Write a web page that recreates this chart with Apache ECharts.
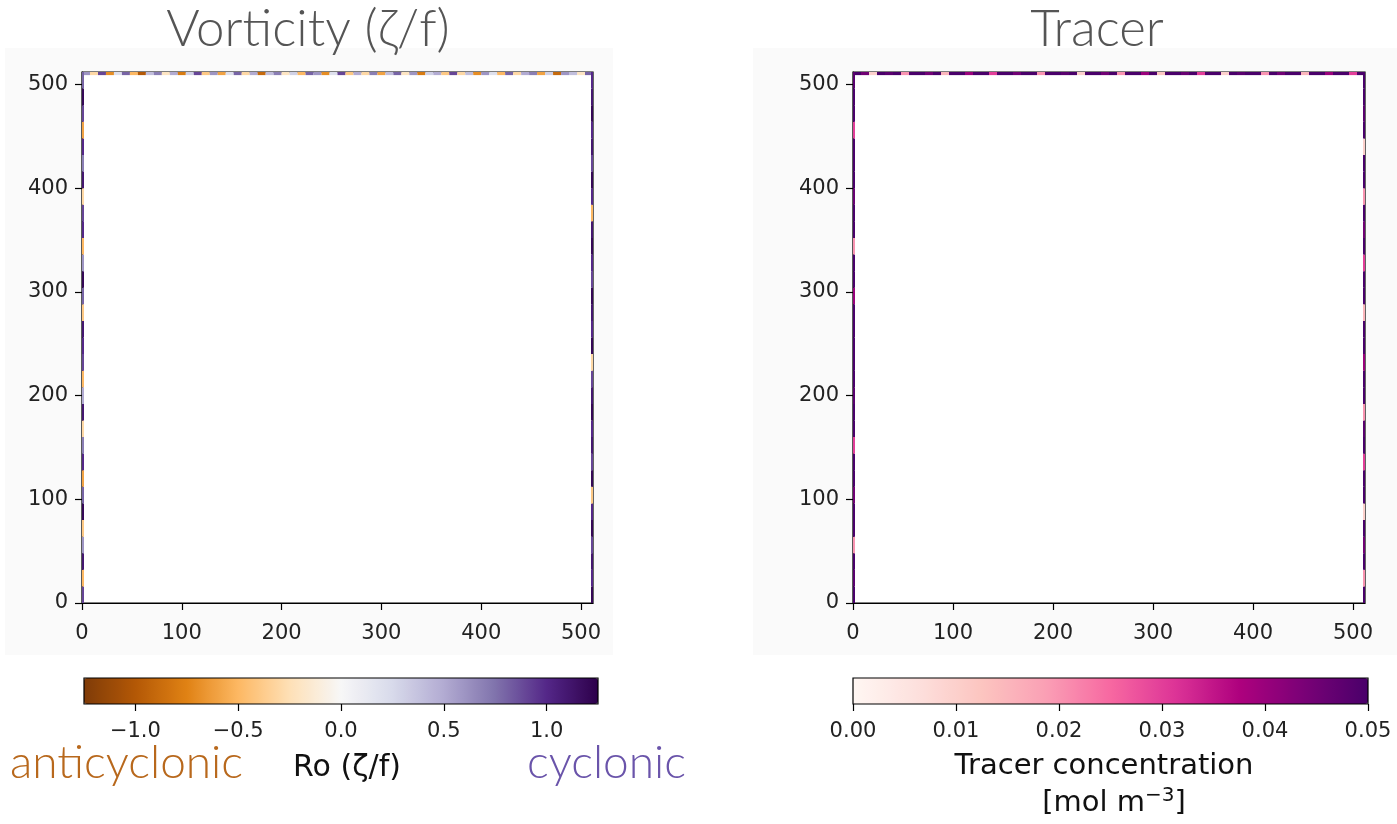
<!DOCTYPE html>
<html>
<head>
<meta charset="utf-8">
<script src="https://cdn.jsdelivr.net/npm/echarts@6/dist/echarts.min.js"></script>
<style>html,body{margin:0;padding:0;background:#fff;}#c{width:1397px;height:824px;}</style>
</head>
<body>
<div id="c"></div>
<script>
// ---------- data ----------
const domainMax = 512;
const axisTicks = [0, 100, 200, 300, 400, 500];
const vortTicks = [-1.0, -0.5, 0.0, 0.5, 1.0];
const tracerTicks = [0.00, 0.01, 0.02, 0.03, 0.04, 0.05];
const vortRange = [-1.25, 1.25];
const tracerRange = [0, 0.05];

// edge noise read along the boundaries (top row: 64 segments; side columns: 32 segments)
const vortTop = [0.6,-0.3,0.9,-0.7,0.2,0.8,-0.5,-1.0,0.4,0.7,-0.2,0.5,-0.8,0.3,0.9,-0.4,
                 0.6,-0.6,0.2,0.8,-0.3,0.5,-0.9,0.4,0.7,-0.2,0.3,-0.5,0.8,0.6,-0.7,0.2,
                 0.9,-0.4,0.5,-0.3,0.7,-0.6,0.4,0.8,-0.2,0.6,-0.8,0.3,0.5,-0.4,0.9,-0.3,
                 0.4,-0.7,0.6,0.2,-0.5,0.8,-0.3,0.5,0.7,-0.6,0.3,-0.9,0.6,0.4,-0.2,0.8];
const vortLeft = [0.9,-0.5,1.1,0.6,-0.4,1.2,0.8,-0.6,1.0,0.7,-0.3,1.1,0.5,-0.5,0.9,1.0,
                  1.1,-0.4,0.8,1.2,0.6,-0.5,1.0,0.9,-0.3,1.1,0.7,1.0,-0.6,0.9,1.2,0.8];
const vortRight = [1.2,1.0,1.1,0.9,1.2,1.0,-0.4,1.2,0.9,1.1,1.0,1.2,1.1,0.9,-0.3,1.2,
                   1.0,1.1,1.2,0.9,1.0,1.2,1.1,-0.5,1.0,1.2,0.9,1.1,1.0,1.2,1.1,1.0];
const tracerTop = [0.05,0.045,0.01,0.05,0.048,0.05,0.02,0.05,0.05,0.045,0.05,0.015,0.05,0.05,0.04,0.05,
                   0.05,0.03,0.05,0.05,0.045,0.05,0.05,0.02,0.05,0.05,0.048,0.05,0.01,0.05,0.05,0.045,
                   0.05,0.02,0.05,0.05,0.04,0.05,0.012,0.05,0.05,0.046,0.05,0.03,0.05,0.05,0.01,0.05,
                   0.048,0.05,0.05,0.02,0.05,0.045,0.05,0.05,0.015,0.05,0.05,0.04,0.05,0.05,0.03,0.05];
const tracerLeft = [0.05,0.048,0.05,0.02,0.05,0.05,0.045,0.05,0.05,0.03,0.05,0.05,0.048,0.05,0.05,0.05,
                    0.05,0.05,0.04,0.05,0.05,0.02,0.05,0.05,0.046,0.05,0.05,0.05,0.03,0.05,0.05,0.048];
const tracerRight = [0.05,0.02,0.05,0.045,0.05,0.01,0.05,0.05,0.03,0.05,0.048,0.02,0.05,0.05,0.04,0.05,
                     0.05,0.015,0.05,0.05,0.03,0.05,0.045,0.05,0.02,0.05,0.05,0.01,0.05,0.048,0.05,0.05];

// ---------- helpers ----------
function edgeCells(top, left, right) {
  const cells = [];
  const tw = domainMax / top.length;
  top.forEach((v, i) => cells.push([i * tw, (i + 1) * tw, domainMax - 3, domainMax, v]));
  const lh = domainMax / left.length;
  left.forEach((v, i) => cells.push([0, 2, i * lh, (i + 1) * lh, v]));
  const rh = domainMax / right.length;
  right.forEach((v, i) => cells.push([domainMax - 2, domainMax, i * rh, (i + 1) * rh, v]));
  return cells;
}
function renderCell(params, api) {
  const p0 = api.coord([api.value(0), api.value(3)]);
  const p1 = api.coord([api.value(1), api.value(2)]);
  return {
    type: 'rect',
    shape: {x: p0[0], y: p0[1], width: p1[0] - p0[0], height: p1[1] - p0[1]},
    style: {fill: api.visual('color')}
  };
}
const PuOr = ['#7f3b08','#b35806','#e08214','#fdb863','#fee0b6','#f7f7f7','#d8daeb','#b2abd2','#8073ac','#542788','#2d004b'];
const RdPu = ['#fff7f3','#fde0dd','#fcc5c0','#fa9fb5','#f768a1','#dd3497','#ae017e','#7a0177','#49006a'];

const tickFont = {fontFamily: 'DejaVu Sans', fontSize: 21, color: '#222'};
function mainAxis(gi, margin) {
  return {type: 'value', gridIndex: gi, min: 0, max: domainMax,
    axisLine: {show: true, onZero: false, lineStyle: {color: '#000', width: 1.2}},
    axisTick: {show: true, length: 7, customValues: axisTicks, lineStyle: {color: '#000', width: 1.2}},
    axisLabel: Object.assign({customValues: axisTicks, margin: margin}, tickFont),
    splitLine: {show: false}};
}
function cbX(gi, range, ticks, fmt) {
  return {type: 'value', gridIndex: gi, min: range[0], max: range[1],
    axisLine: {show: false},
    axisTick: {show: true, length: 7, customValues: ticks, lineStyle: {color: '#000', width: 1.2}},
    axisLabel: Object.assign({customValues: ticks, margin: 17, formatter: fmt}, tickFont),
    splitLine: {show: false}};
}
function cbY(gi) {
  return {type: 'value', gridIndex: gi, show: false, min: 0, max: 1};
}

const chart = echarts.init(document.getElementById('c'), null, {renderer: 'canvas'});
chart.setOption({
  animation: false,
  backgroundColor: '#ffffff',
  graphic: [
    {type: 'rect', shape: {x: 5, y: 48, width: 608, height: 607}, style: {fill: '#fafafa'}, z: -10, silent: true},
    {type: 'rect', shape: {x: 753, y: 48, width: 644, height: 607}, style: {fill: '#fafafa'}, z: -10, silent: true},
    {type: 'rect', shape: {x: 84, y: 678, width: 514, height: 26}, style: {fill: 'none', stroke: '#000', lineWidth: 1.2}, z: 100, silent: true},
    {type: 'rect', shape: {x: 853, y: 678, width: 515, height: 26}, style: {fill: 'none', stroke: '#000', lineWidth: 1.2}, z: 100, silent: true},
    {type: 'text', left: 10, top: 740, style: {text: 'anticyclonic', font: '300 46px Lato', fill: '#b8681c'}},
    {type: 'text', x: 347, y: 768, style: {text: 'Ro (ζ/f)', font: '30px "DejaVu Sans"', fill: '#111', align: 'center', verticalAlign: 'middle'}},
    {type: 'text', left: 527, top: 740, style: {text: 'cyclonic', font: '300 46px Lato', fill: '#6a54aa'}},
    {type: 'text', x: 1104, y: 766, style: {text: 'Tracer concentration', font: '29px "DejaVu Sans"', fill: '#111', align: 'center', verticalAlign: 'middle'}},
    {type: 'text', x: 1114, y: 803, style: {
      text: '[mol m{sup|−3}]', align: 'center', verticalAlign: 'middle',
      font: '29px "DejaVu Sans"', fill: '#111',
      rich: {sup: {fontSize: 20, fontFamily: 'DejaVu Sans', verticalAlign: 'top', fill: '#111', padding: [0, 0, 14, 0]}}
    }}
  ],
  title: [
    {text: 'Vorticity (ζ/f)', left: 303, top: -1, textAlign: 'center',
      textStyle: {fontFamily: 'Lato', fontWeight: 300, fontSize: 51, color: '#555'}},
    {text: 'Tracer', left: 1092, top: -1, textAlign: 'center',
      textStyle: {fontFamily: 'Lato', fontWeight: 300, fontSize: 51, color: '#555'}}
  ],
  grid: [
    {left: 82, top: 72, width: 511, height: 531, show: true, backgroundColor: '#fff', borderColor: '#000', borderWidth: 1.2},
    {left: 853, top: 72, width: 512, height: 531, show: true, backgroundColor: '#fff', borderColor: '#000', borderWidth: 1.2},
    {left: 84, top: 678, width: 514, height: 26, show: false},
    {left: 853, top: 678, width: 515, height: 26, show: false}
  ],
  xAxis: [
    mainAxis(0, 20), mainAxis(1, 20),
    cbX(2, vortRange, vortTicks, v => v.toFixed(1).replace('-', '\u2212')),
    cbX(3, tracerRange, tracerTicks, v => v.toFixed(2))
  ],
  yAxis: [mainAxis(0, 14), mainAxis(1, 14), cbY(2), cbY(3)],
  visualMap: [
    {type: 'continuous', seriesIndex: 0, dimension: 4, min: vortRange[0], max: vortRange[1],
      orient: 'horizontal', left: 84, top: 678, itemWidth: 26, itemHeight: 514, padding: 0,
      calculable: false, text: null, showLabel: false, hoverLink: false, realtime: false,
      inRange: {color: PuOr}},
    {type: 'continuous', seriesIndex: 1, dimension: 4, min: tracerRange[0], max: tracerRange[1],
      orient: 'horizontal', left: 853, top: 678, itemWidth: 26, itemHeight: 515, padding: 0,
      calculable: false, text: null, showLabel: false, hoverLink: false, realtime: false,
      inRange: {color: RdPu}}
  ],
  series: [
    {type: 'custom', xAxisIndex: 0, yAxisIndex: 0, clip: true, renderItem: renderCell,
      encode: {x: [0, 1], y: [2, 3]}, data: edgeCells(vortTop, vortLeft, vortRight), silent: true},
    {type: 'custom', xAxisIndex: 1, yAxisIndex: 1, clip: true, renderItem: renderCell,
      encode: {x: [0, 1], y: [2, 3]}, data: edgeCells(tracerTop, tracerLeft, tracerRight), silent: true}
  ]
});
</script>
</body>
</html>
